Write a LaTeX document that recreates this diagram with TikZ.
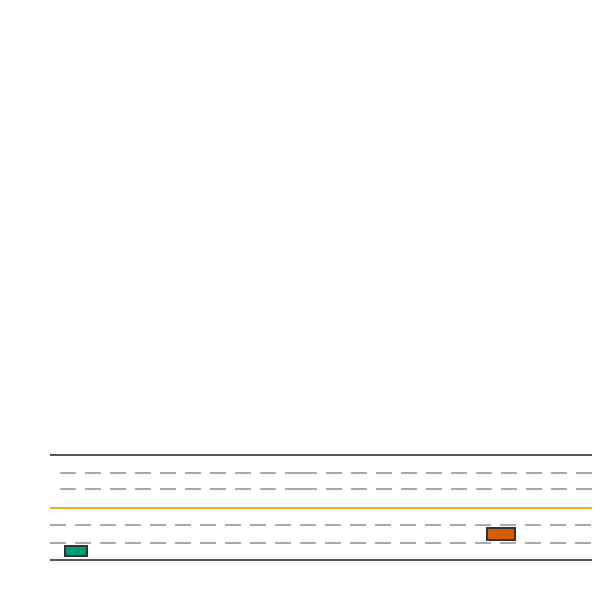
\documentclass[tikz,border=0pt]{standalone}
\definecolor{edge}{HTML}{555555}
\definecolor{lanegray}{HTML}{AAAAAA}
\definecolor{centerline}{HTML}{F7AA1E}
\definecolor{greencar}{HTML}{009E73}
\definecolor{orangecar}{HTML}{D55E00}
\definecolor{carborder}{HTML}{333333}
\begin{document}
\begin{tikzpicture}[x=1pt,y=-1pt,
  roadedge/.style={draw=edge,line width=2pt},
  lane/.style={draw=lanegray,line width=2pt,dash pattern=on 16pt off 9pt},
  centre/.style={draw=centerline,line width=1.8pt},
  car/.style={draw=carborder,line width=2pt,inner sep=0pt,outer sep=0pt,rectangle}]
\useasboundingbox (0,0) rectangle (600,600);
% road edges
\draw[roadedge] (50,455) -- (592,455);
\draw[roadedge] (50,560) -- (592,560);
% upper lane markings (two segments)
\draw[lane] (60,472.7) -- (301,472.7);
\draw[lane] (301,472.7) -- (592,472.7);
\draw[lane] (60,489.3) -- (301,489.3);
\draw[lane] (301,489.3) -- (592,489.3);
% centre line
\draw[centre] (50,507.7) -- (592,507.7);
% lower lane markings
\draw[lane] (50,525) -- (592,525);
\draw[lane] (50,543) -- (592,543);
% cars
\node[car,fill=greencar,minimum width=22.5pt,minimum height=10.5pt] (greenveh) at (75.75,550.75) {};
\node[car,fill=orangecar,minimum width=28pt,minimum height=12.5pt] (orangeveh) at (500.5,533.75) {};
\end{tikzpicture}
\end{document}
